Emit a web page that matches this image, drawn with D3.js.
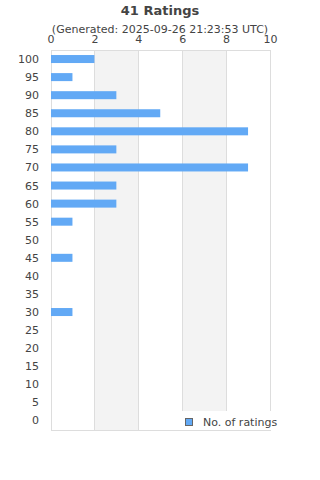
<!DOCTYPE html>
<meta charset="utf-8">
<style>

body {
  margin: 0;
}

svg {
  font: 11px "DejaVu Sans", sans-serif;
  fill: #444;
}

.grid line,
.frame {
  shape-rendering: crispEdges;
}

.grid line {
  stroke: #ddd;
}

.axis {
  color: #444;
}

.axis path,
.axis line {
  display: none;
}

.axis text {
  fill: #444;
  font-size: 11px;
  font-family: "DejaVu Sans", sans-serif;
}

.title {
  font-weight: bold;
  font-size: 13px;
}

</style>
<body>
<script src="https://d3js.org/d3.v7.min.js"></script>
<script>

var ratings = ["100", "95", "90", "85", "80", "75", "70", "65", "60", "55", "50",
               "45", "40", "35", "30", "25", "20", "15", "10", "5", "0"];
var counts = [2, 1, 3, 5, 9, 3, 9, 3, 3, 1, 0, 1, 0, 0, 1, 0, 0, 0, 0, 0, 0];
var xTicks = [0, 2, 4, 6, 8, 10];
var seriesName = "No. of ratings";

var width = 320,
    height = 480,
    margin = {top: 50.5, right: 50, bottom: 50, left: 50.5};

var x = d3.scaleLinear()
    .domain([0, 10])
    .range([margin.left, width - margin.right]);

var y = d3.scaleBand()
    .domain(ratings)
    .range([margin.top, 430])
    .paddingInner(0);

var svg = d3.select("body").append("svg")
    .attr("width", width)
    .attr("height", height);

// Title
svg.append("text")
    .attr("class", "title")
    .attr("x", width / 2)
    .attr("y", 15)
    .attr("text-anchor", "middle")
    .text("41 Ratings");

svg.append("text")
    .attr("x", width / 2)
    .attr("y", 33)
    .attr("text-anchor", "middle")
    .text("(Generated: 2025-09-26 21:23:53 UTC)");

// alternating bands
svg.append("g").selectAll("rect")
    .data(xTicks.filter(function(d, i) { return i % 2 == 1 && d < 10; }))
  .enter().append("rect")
    .attr("x", function(d) { return x(d); })
    .attr("y", margin.top)
    .attr("width", x(2) - x(0))
    .attr("height", 430 - margin.top)
    .attr("fill", "#f3f3f3");

// grid
svg.append("g")
    .attr("class", "grid")
    .selectAll("line")
    .data(xTicks)
  .enter().append("line")
    .attr("x1", function(d) { return Math.round(x(d)) + 0.5; })
    .attr("x2", function(d) { return Math.round(x(d)) + 0.5; })
    .attr("y1", margin.top)
    .attr("y2", 430);

svg.append("g")
    .attr("class", "grid")
  .append("line")
    .attr("x1", margin.left)
    .attr("x2", x(10) + 0.5)
    .attr("y1", margin.top)
    .attr("y2", margin.top);

svg.append("g")
    .attr("class", "grid")
  .append("line")
    .attr("x1", margin.left)
    .attr("x2", x(10) + 0.5)
    .attr("y1", 430.5)
    .attr("y2", 430.5);

// bars
svg.append("g").selectAll("rect")
    .data(counts)
  .enter().append("rect")
    .attr("x", x(0) + 0.5)
    .attr("y", function(d, i) { return y(ratings[i]) + y.bandwidth() / 2 - 4.5; })
    .attr("width", function(d) { return Math.max(0, x(d) - x(0) - 0.5); })
    .attr("height", 8)
    .attr("fill", "#62a9f5");

// axes
svg.append("g")
    .attr("class", "axis")
    .attr("transform", "translate(0," + 43 + ")")
    .call(d3.axisTop(x).tickValues(xTicks).tickSize(0).tickPadding(0));

svg.append("g")
    .attr("class", "axis")
    .attr("transform", "translate(" + 39 + ",0)")
    .call(d3.axisLeft(y).tickSize(0).tickPadding(0));

// legend
var legend = svg.append("g")
    .attr("transform", "translate(178,411)");

legend.append("rect")
    .attr("width", 142)
    .attr("height", 19)
    .attr("fill", "#fff");

legend.append("rect")
    .attr("x", 7.5)
    .attr("y", 7.5)
    .attr("width", 7)
    .attr("height", 7)
    .attr("fill", "#62a9f5")
    .attr("stroke", "#666");

legend.append("text")
    .attr("x", 25)
    .attr("y", 15)
    .text(seriesName);

</script>
